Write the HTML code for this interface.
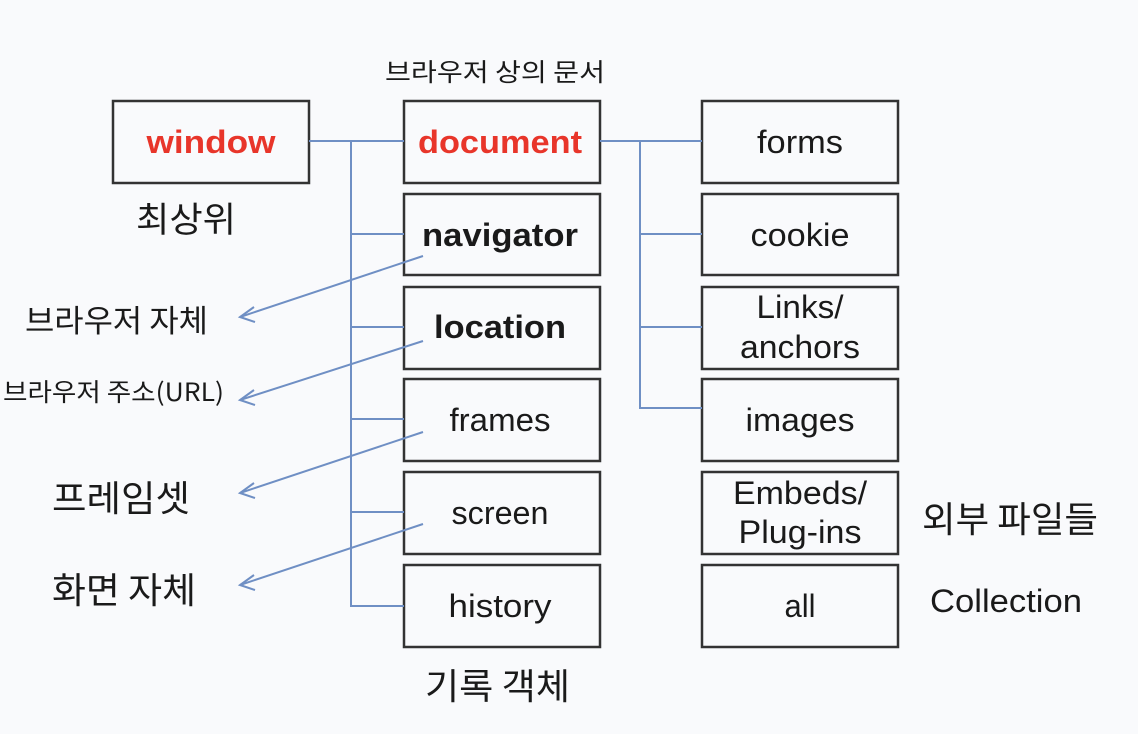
<!DOCTYPE html>
<html><head><meta charset="utf-8"><style>
html,body{margin:0;padding:0;background:#f9fafc;}
svg{display:block}
text{font-family:"Liberation Sans","Noto Sans CJK KR",sans-serif;fill:#1a1a1a}
.b{font-size:32px;text-anchor:middle}
.k{font-family:"Noto Sans CJK KR","Liberation Sans",sans-serif}
</style></head><body>
<svg width="1138" height="734" viewBox="0 0 1138 734">
<rect width="1138" height="734" fill="#f9fafc"/>
<g fill="none" stroke="#333" stroke-width="2.5">
<rect x="113" y="101" width="196" height="82"/>
<rect x="404" y="101" width="196" height="82"/>
<rect x="404" y="194" width="196" height="81"/>
<rect x="404" y="287" width="196" height="82"/>
<rect x="404" y="379" width="196" height="82"/>
<rect x="404" y="472" width="196" height="82"/>
<rect x="404" y="565" width="196" height="82"/>
<rect x="702" y="101" width="196" height="82"/>
<rect x="702" y="194" width="196" height="81"/>
<rect x="702" y="287" width="196" height="82"/>
<rect x="702" y="379" width="196" height="82"/>
<rect x="702" y="472" width="196" height="82"/>
<rect x="702" y="565" width="196" height="82"/>
</g>
<g fill="none" stroke="#6f8fc4" stroke-width="2">
<path d="M309 141H404M351 141V606H404M351 234H404M351 327H404M351 419H404M351 512H404"/>
<path d="M600 141H702M640 141V408H702M640 234H702M640 327H702"/>
<path d="M423 256L240 317M423 341L240 400M423 432L240 493M423 524L240 585"/>
<path d="M254 307L240 317L255 322M254 390L240 400L255 405M254 483L240 493L255 498M254 575L240 585L255 590"/>
</g>
<g lengthAdjust="spacingAndGlyphs">
<text class="b" x="211" y="153" textLength="129" lengthAdjust="spacingAndGlyphs" style="fill:#e8352a;font-weight:bold">window</text>
<text class="b" x="500" y="153" textLength="164" lengthAdjust="spacingAndGlyphs" style="fill:#e8352a;font-weight:bold">document</text>
<text class="b" x="500" y="246" textLength="156" lengthAdjust="spacingAndGlyphs" style="font-weight:bold">navigator</text>
<text class="b" x="500" y="338" textLength="132" lengthAdjust="spacingAndGlyphs" style="font-weight:bold">location</text>
<text class="b" x="500" y="431" textLength="101" lengthAdjust="spacingAndGlyphs">frames</text>
<text class="b" x="500" y="524" textLength="97" lengthAdjust="spacingAndGlyphs">screen</text>
<text class="b" x="500" y="617" textLength="103" lengthAdjust="spacingAndGlyphs">history</text>
<text class="b" x="800" y="153" textLength="86" lengthAdjust="spacingAndGlyphs">forms</text>
<text class="b" x="800" y="246" textLength="99" lengthAdjust="spacingAndGlyphs">cookie</text>
<text class="b" x="800" y="318" textLength="87" lengthAdjust="spacingAndGlyphs">Links/</text>
<text class="b" x="800" y="358" textLength="120" lengthAdjust="spacingAndGlyphs">anchors</text>
<text class="b" x="800" y="431" textLength="109" lengthAdjust="spacingAndGlyphs">images</text>
<text class="b" x="800" y="504" textLength="134" lengthAdjust="spacingAndGlyphs">Embeds/</text>
<text class="b" x="800" y="543" textLength="123" lengthAdjust="spacingAndGlyphs">Plug-ins</text>
<text class="b" x="800" y="617" textLength="31" lengthAdjust="spacingAndGlyphs">all</text>
<text class="k" x="385" y="81" style="font-size:25px" textLength="220" lengthAdjust="spacingAndGlyphs">브라우저 상의 문서</text>
<text class="k" x="136" y="232" style="font-size:35px" textLength="100" lengthAdjust="spacingAndGlyphs">최상위</text>
<text class="k" x="25" y="332" style="font-size:31px" textLength="183" lengthAdjust="spacingAndGlyphs">브라우저 자체</text>
<text class="k" x="3" y="401" style="font-size:25px" textLength="221" lengthAdjust="spacingAndGlyphs">브라우저 주소(URL)</text>
<text class="k" x="52" y="511" style="font-size:36px" textLength="138" lengthAdjust="spacingAndGlyphs">프레임셋</text>
<text class="k" x="52" y="603" style="font-size:36px" textLength="144" lengthAdjust="spacingAndGlyphs">화면 자체</text>
<text class="k" x="425" y="699" style="font-size:36px" textLength="145" lengthAdjust="spacingAndGlyphs">기록 객체</text>
<text class="k" x="922" y="532" style="font-size:36px" textLength="176" lengthAdjust="spacingAndGlyphs">외부 파일들</text>
<text x="930" y="612" style="font-size:32px" textLength="152" lengthAdjust="spacingAndGlyphs">Collection</text>
</g>
</svg>
</body></html>
